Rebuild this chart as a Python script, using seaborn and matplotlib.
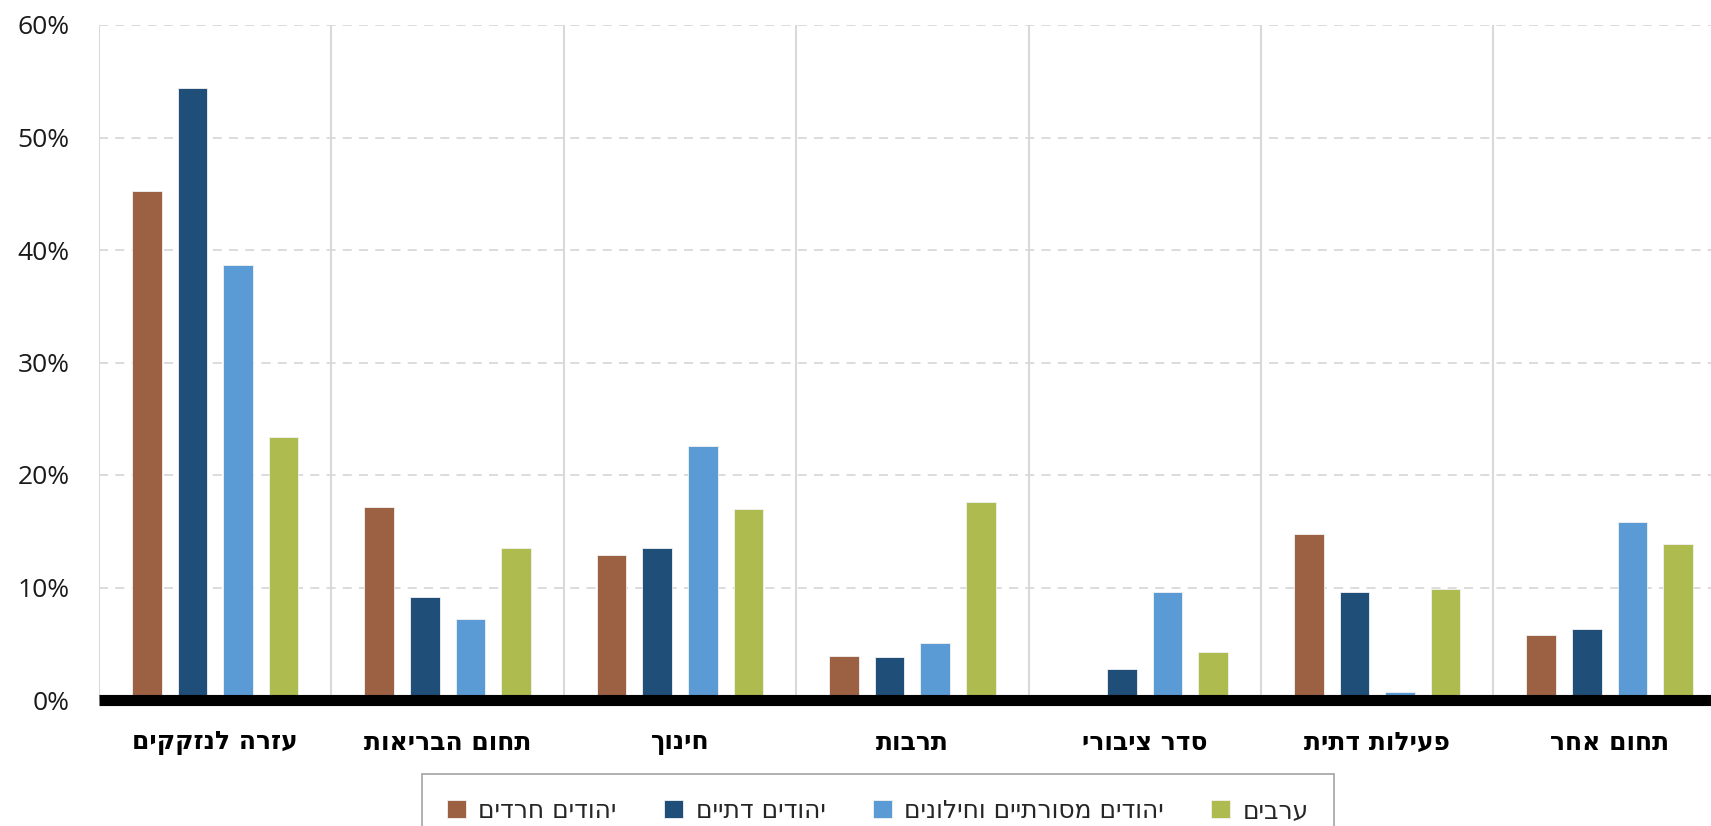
import matplotlib
matplotlib.use("Agg")
import matplotlib.pyplot as plt
import seaborn as sns
import pandas as pd
from matplotlib import font_manager as fm

categories = ["עזרה לנזקקים", "תחום הבריאות", "חינוך", "תרבות", "סדר ציבורי", "פעילות דתית", "תחום אחר"]
series_names = ["יהודים חרדים", "יהודים דתיים", "יהודים מסורתיים וחילונים", "ערבים"]
haredi = [45.2, 17.2, 12.9, 3.9, 0.0, 14.8, 5.8]
religious = [54.4, 9.2, 13.5, 3.8, 2.75, 9.6, 6.35]
secular = [38.7, 7.2, 22.6, 5.1, 9.6, 0.7, 15.8]
arabs = [23.4, 13.5, 17.0, 17.6, 4.3, 9.9, 13.9]
yticks = [0, 10, 20, 30, 40, 50, 60]
colors = ["#9C6142", "#1F4E78", "#5B9BD5", "#AEBB4E"]


def rtl(s):
    return s[::-1]


names = {f.name for f in fm.fontManager.ttflist}
heb_font = "DejaVu Sans"
num_font = "Open Sans" if "Open Sans" in names else "DejaVu Sans"

rows = []
for vals, name in zip([haredi, religious, secular, arabs], series_names):
    for c, v in zip(categories, vals):
        rows.append({"cat": rtl(c), "grp": rtl(name), "val": v})
df = pd.DataFrame(rows)

sns.set_theme(style="white")
plt.rcParams["font.family"] = [num_font, "DejaVu Sans"]

fig = plt.figure(figsize=(17.11, 8.26), dpi=100)
W, H = 1711, 826
left_px, top_px, bottom_px = 99, 25, 700
ax = fig.add_axes([left_px / W, 1 - bottom_px / H, 1 - left_px / W, (bottom_px - top_px) / H])

sns.barplot(data=df, x="cat", y="val", hue="grp", palette=colors, saturation=1,
            width=0.784, gap=0.35, ax=ax, edgecolor="#F2F2F2", linewidth=0.6, errorbar=None)

ncat = len(categories)
xr = -0.5 + (W - left_px) / 232.4
ax.set_xlim(-0.5, xr)
ax.set_ylim(0, 60)
ax.set_yticks(yticks)
ax.set_yticklabels([f"{t}%" for t in yticks], fontsize=19, color="#1A1A1A")
ax.set_xlabel("")
ax.set_ylabel("")

for y in yticks[1:]:
    ax.axhline(y, color="#D9D9D9", lw=1.3, ls=(0, (5, 4)), zorder=0)
for i in range(ncat):
    ax.axvline(i - 0.5, color="#D9D9D9", lw=1.5, zorder=0)
ax.axhline(0, color="black", lw=8, zorder=5, clip_on=False, solid_capstyle="butt")

for s in ax.spines.values():
    s.set_visible(False)
ax.tick_params(axis="both", length=0)
ax.tick_params(axis="y", pad=21)
ax.tick_params(axis="x", pad=22)
for lbl in ax.get_xticklabels():
    lbl.set_fontfamily([heb_font])
    lbl.set_fontweight("bold")
    lbl.set_fontsize(18)
    lbl.set_color("black")

handles, labels = ax.get_legend_handles_labels()
if ax.get_legend() is not None:
    ax.get_legend().remove()
leg = fig.legend(handles, labels, loc="upper center", bbox_to_anchor=(878 / W, 1 - 774 / H),
                 ncol=4, frameon=True, fancybox=False, edgecolor="#8C8C8C",
                 prop={"family": [heb_font], "size": 18},
                 handlelength=0.75, handleheight=0.75, handletextpad=0.5,
                 columnspacing=1.9, borderpad=1.0, borderaxespad=0)
leg.get_frame().set_linewidth(1.2)

fig.savefig("out.png", dpi=100)
